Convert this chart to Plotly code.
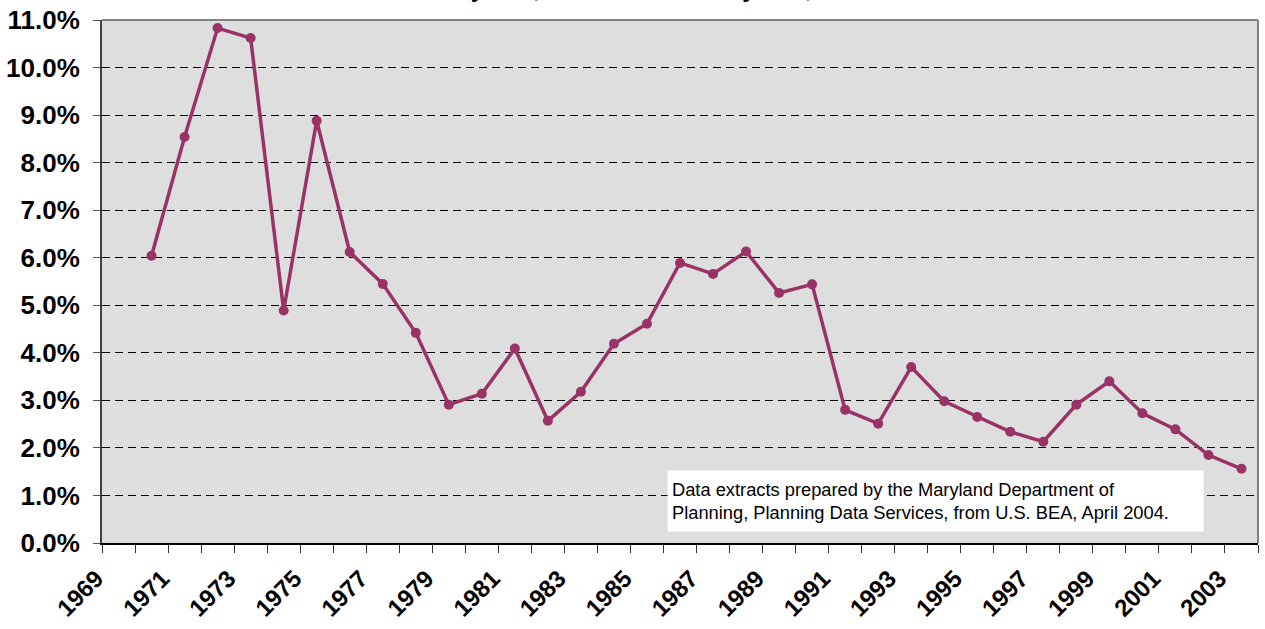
import plotly.graph_objects as go

years = list(range(1969, 2004))
growth_pct = [None, 6.04, 8.54, 10.83, 10.62, 4.89, 8.88, 6.12, 5.45, 4.42,
              2.91, 3.14, 4.09, 2.57, 3.18, 4.19, 4.61, 5.89, 5.66, 6.13,
              5.26, 5.44, 2.80, 2.51, 3.70, 2.98, 2.65, 2.34, 2.13, 2.91,
              3.40, 2.73, 2.39, 1.85, 1.56]
label_years = [y for y in years if (y - 1969) % 2 == 0]
y_ticks = list(range(0, 12))
source_note = ("Data extracts prepared by the Maryland Department of<br>"
               "Planning, Planning Data Services, from U.S. BEA, April 2004.")
title_text = "Maryland, Total Jobs in Maryland, 1970-2003"

FONT = "Arial, 'Liberation Sans', sans-serif"
LINE = "#993366"

fig = go.Figure()
fig.add_trace(go.Scatter(
    x=years, y=growth_pct, mode="lines+markers",
    line=dict(color=LINE, width=3.5),
    marker=dict(color=LINE, size=10),
    connectgaps=False, hoverinfo="x+y", showlegend=False,
))

boundaries = [y - 0.5 for y in years] + [years[-1] + 0.5]

fig.update_layout(
    width=1265, height=629,
    margin=dict(l=102, r=7, t=20, b=86, autoexpand=False),
    paper_bgcolor="white",
    plot_bgcolor="#dedede",
    font=dict(family=FONT, color="black"),
    xaxis=dict(
        range=[years[0] - 0.5, years[-1] + 0.5],
        automargin=False,
        tickmode="array",
        tickvals=label_years,
        ticktext=[str(y) for y in label_years],
        tickangle=-45,
        tickfont=dict(family=FONT, size=24, color="black", weight="bold"),
        ticks="",
        ticklabelstandoff=10,
        ticklabelshift=-22,
        showgrid=False,
        zeroline=False,
        showline=True, linecolor="black", linewidth=2,
        minor=dict(tickmode="array", tickvals=boundaries, ticks="outside",
                   ticklen=8, tickcolor="#333333", tickwidth=1, showgrid=False),
    ),
    yaxis=dict(
        range=[0, 11],
        automargin=False,
        tickmode="array",
        tickvals=y_ticks,
        ticktext=[f"{v:.1f}%" for v in y_ticks],
        tickfont=dict(family=FONT, size=26, color="black", weight="bold"),
        ticks="outside", ticklen=7, tickcolor="#555555",
        ticklabelstandoff=8,
        showgrid=True, gridcolor="black", gridwidth=1, griddash="8px,5px",
        zeroline=False,
        showline=True, linecolor="#404040", linewidth=2,
    ),
    shapes=[
        dict(type="line", xref="paper", yref="paper", x0=0, x1=1, y0=1, y1=1,
             line=dict(color="#808080", width=2), layer="above"),
        dict(type="line", xref="paper", yref="paper", x0=1, x1=1, y0=0, y1=1,
             line=dict(color="#808080", width=2), layer="above"),
    ],
    annotations=[
        dict(text=source_note, xref="paper", yref="paper",
             x=(667 - 102) / 1156, y=(543 - 532) / 523,
             xanchor="left", yanchor="bottom", showarrow=False, align="left",
             bgcolor="white", borderpad=4, width=527, height=52,
             font=dict(family=FONT, size=18.3, color="black")),
        dict(text="<b>" + title_text + "</b>", xref="paper", yref="paper",
             x=0.5, y=1 + (20 - 4) / 523, xanchor="center", yanchor="bottom",
             showarrow=False, font=dict(family=FONT, size=24, color="black")),
    ],
)

fig.write_html("out.html", config={"displayModeBar": False},
               post_script="document.body.style.margin='0';")
